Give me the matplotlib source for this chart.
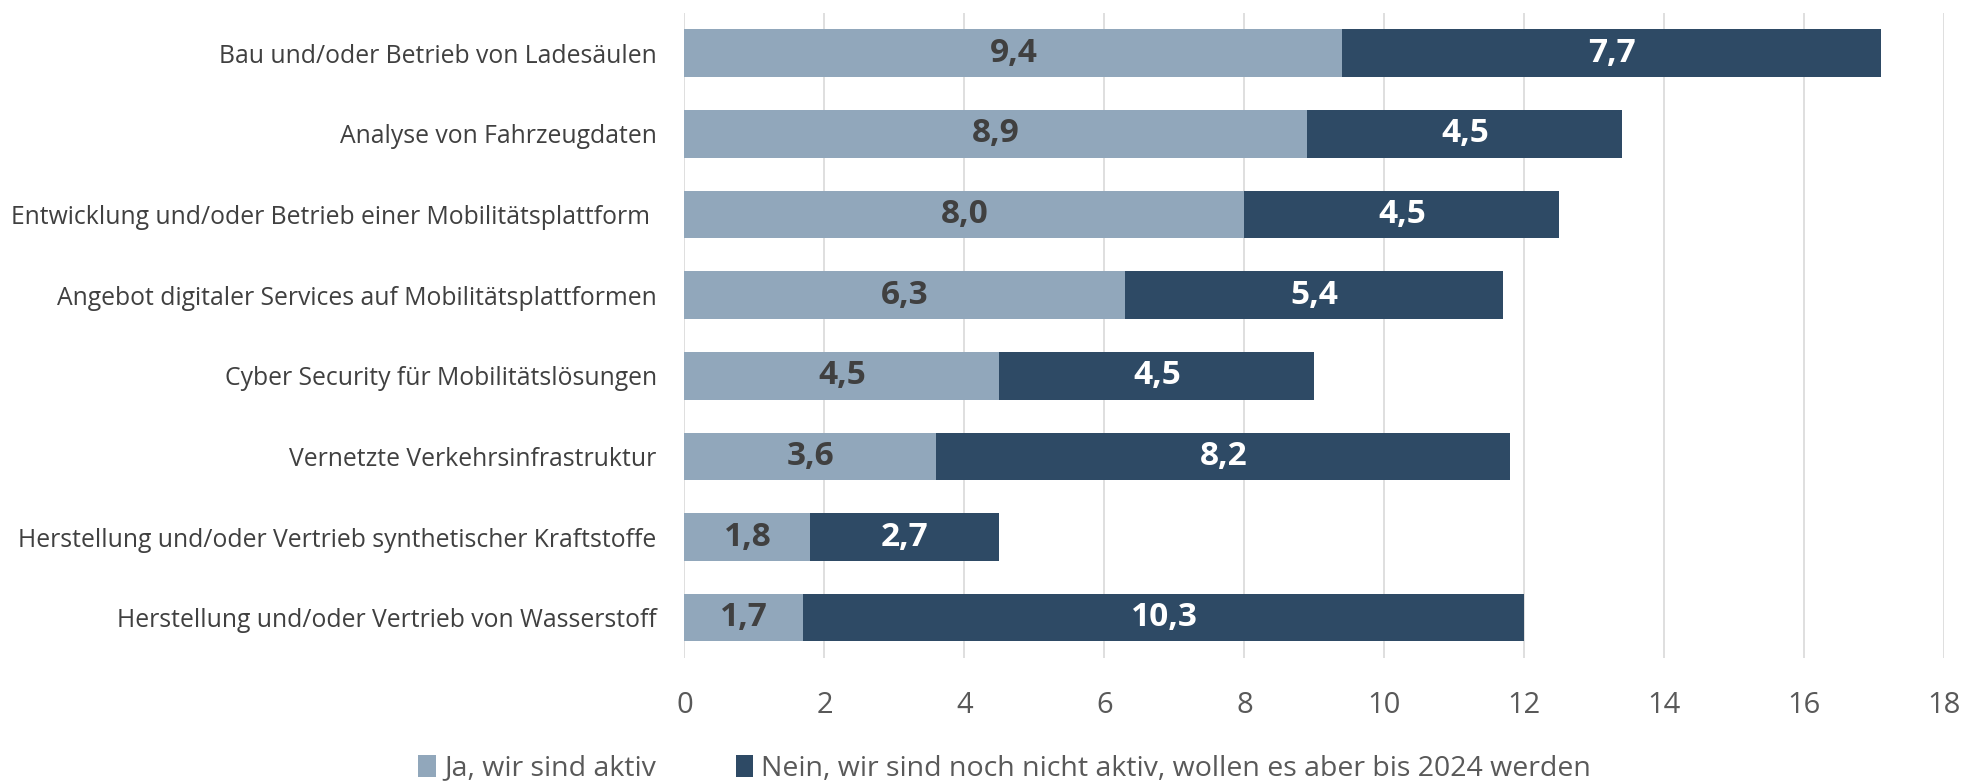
import numpy as np
import matplotlib.pyplot as plt

plt.rcParams['font.family'] = ['Open Sans', 'DejaVu Sans']

categories = [
    "Bau und/oder Betrieb von Ladesäulen",
    "Analyse von Fahrzeugdaten",
    "Entwicklung und/oder Betrieb einer Mobilitätsplattform ",
    "Angebot digitaler Services auf Mobilitätsplattformen",
    "Cyber Security für Mobilitätslösungen",
    "Vernetzte Verkehrsinfrastruktur",
    "Herstellung und/oder Vertrieb synthetischer Kraftstoffe",
    "Herstellung und/oder Vertrieb von Wasserstoff",
]
ja_aktiv = [9.4, 8.9, 8.0, 6.3, 4.5, 3.6, 1.8, 1.7]
nein_bis_2024 = [7.7, 4.5, 4.5, 5.4, 4.5, 8.2, 2.7, 10.3]
series_names = ["Ja, wir sind aktiv",
                "Nein, wir sind noch nicht aktiv, wollen es aber bis 2024 werden"]
xticks = [0, 2, 4, 6, 8, 10, 12, 14, 16, 18]

light = '#91A7BB'
dark = '#2E4A65'

fig = plt.figure(figsize=(19.84, 7.81), dpi=100)
ax = fig.add_axes([0.345, 0.1575, 0.635, 0.826])

y = np.arange(len(categories))[::-1]
b1 = ax.barh(y, ja_aktiv, height=0.59, color=light, label=series_names[0], zorder=2)
b2 = ax.barh(y, nein_bis_2024, left=ja_aktiv, height=0.59, color=dark,
             label=series_names[1], zorder=2)

def fmt(v):
    return f"{v:.1f}".replace('.', ',')

ax.bar_label(b1, labels=[fmt(v) for v in ja_aktiv], label_type='center',
             color='#404040', fontsize=24, fontweight='bold')
ax.bar_label(b2, labels=[fmt(v) for v in nein_bis_2024], label_type='center',
             color='white', fontsize=24, fontweight='bold')

ax.set_xlim(0, 18)
ax.set_ylim(-0.5, len(categories) - 0.5)
ax.set_xticks(xticks)
ax.set_yticks(y)
ax.set_yticklabels(categories)
ax.tick_params(axis='y', length=0, pad=20, labelsize=17.8, labelcolor='#404040')
ax.tick_params(axis='x', length=0, pad=24, labelsize=21, labelcolor='#595959')
ax.grid(axis='x', color='#d9d9d9', linewidth=1.2, zorder=0)
for s in ax.spines.values():
    s.set_visible(False)

fig.legend(loc='center left', bbox_to_anchor=(0.198, 0.016), ncol=2, frameon=False,
           fontsize=20.5, handlelength=0.6, handleheight=0.8, handletextpad=0.3,
           columnspacing=2.8, labelcolor='#595959')

fig.savefig('out.png', dpi=100)
